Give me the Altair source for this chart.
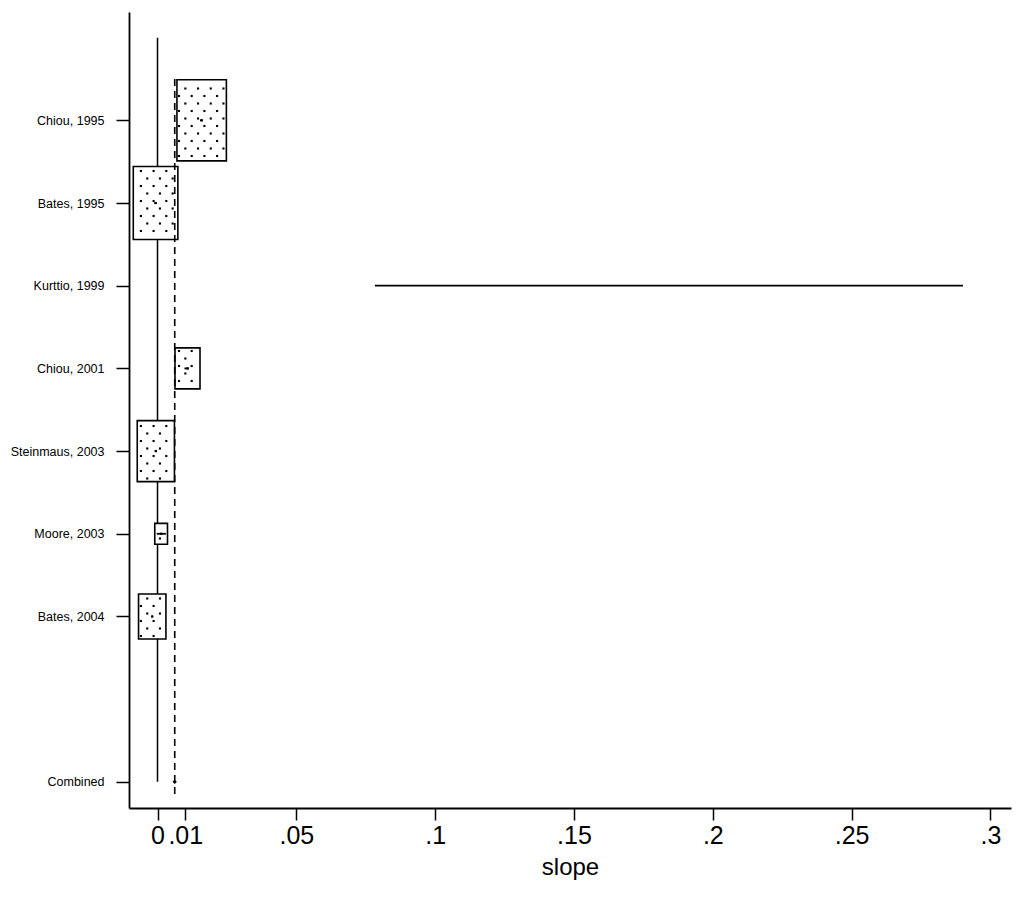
import math
import altair as alt
import pandas as pd

# ---------------- data ----------------
studies = ["Chiou, 1995", "Bates, 1995", "Kurttio, 1999", "Chiou, 2001",
           "Steinmaus, 2003", "Moore, 2003", "Bates, 2004"]
study_rows = [1, 2, 3, 4, 5, 6, 7]
estimates = [0.0159, -0.0007, 0.184, 0.0108, -0.0006, 0.0013, -0.0019]
ci_low = [0.0153, -0.0011, 0.0783, 0.0097, -0.0010, -0.0003, -0.0022]
ci_high = [0.0163, -0.0003, 0.2901, 0.0113, -0.0002, 0.0030, -0.0016]
weights = [33.2, 27.0, 0.01, 8.5, 18.8, 2.2, 10.2]

combined_label = "Combined"
combined_row = 9
combined_est = 0.0062
combined_low = 0.0058
combined_high = 0.0066

x_ticks = [0, 0.01, 0.05, 0.1, 0.15, 0.2, 0.25, 0.3]
x_title = "slope"
x_domain = [-0.01027, 0.3074]
y_domain = [-0.31, 9.316]
null_line_rows = [0, 9]          # vertical line at slope 0
overall_line_rows = [0.5, 9.17]  # dashed line at combined estimate

# ---------------- layout ----------------
W, H = 882, 796
FONT = "Liberation Sans, Arial, sans-serif"
sx = W / (x_domain[1] - x_domain[0])   # px per slope unit
sy = H / (y_domain[1] - y_domain[0])   # px per row

HALF_H_PX = 7.03
HALF_W_PX = 4.29

boxes = pd.DataFrame({
    "study": studies, "row": study_rows, "est": estimates,
    "lo": ci_low, "hi": ci_high, "w": weights,
})
boxes["x1"] = boxes["est"] - HALF_W_PX * boxes["w"].map(math.sqrt) / sx
boxes["x2"] = boxes["est"] + HALF_W_PX * boxes["w"].map(math.sqrt) / sx
boxes["y1"] = boxes["row"] - HALF_H_PX * boxes["w"].map(math.sqrt) / sy
boxes["y2"] = boxes["row"] + HALF_H_PX * boxes["w"].map(math.sqrt) / sy

# stipple texture inside the boxes (screen-aligned lattice)
dots = []
for _, b in boxes.iterrows():
    left = (b.x1 - x_domain[0]) * sx
    right = (b.x2 - x_domain[0]) * sx
    top = (b.y1 - y_domain[0]) * sy
    bottom = (b.y2 - y_domain[0]) * sy
    if right - left < 6:
        continue
    j0 = math.floor((top - 69) / 7.5) - 1
    j1 = math.ceil((bottom - 69) / 7.5) + 1
    for j in range(j0, j1 + 1):
        py = 69 + 7.5 * j
        if not (top + 2 <= py <= bottom - 2):
            continue
        off = 6.35 * (j % 2)
        i0 = math.floor((left - 50 - off) / 12.7) - 1
        i1 = math.ceil((right - 50 - off) / 12.7) + 1
        for i in range(i0, i1 + 1):
            px = 50 + off + 12.7 * i
            if left + 2 <= px <= right - 2:
                dots.append({"x": x_domain[0] + px / sx,
                             "y": y_domain[0] + py / sy})
dots = pd.DataFrame(dots)

null_line = pd.DataFrame({"x": [0, 0], "y": null_line_rows})
overall_line = pd.DataFrame({"x": [combined_est, combined_est],
                             "y": overall_line_rows})
combined = pd.DataFrame({"row": [combined_row], "est": [combined_est],
                         "lo": [combined_low], "hi": [combined_high]})

xs = alt.Scale(domain=x_domain, nice=False, zero=False)
ys = alt.Scale(domain=y_domain, nice=False, zero=False, reverse=True)

names_by_row = [""] * 10
for r, s in zip(study_rows, studies):
    names_by_row[r] = s
names_by_row[combined_row] = combined_label
label_js = "[" + ",".join("'" + n + "'" for n in names_by_row) + "][datum.value]"

x_axis = alt.Axis(
    values=x_ticks, title=x_title,
    labelExpr="datum.value == 0 ? '0' : replace(toString(datum.value), '0.', '.')",
    labelFont=FONT, labelFontSize=25, labelColor="black", labelPadding=3,
    labelOverlap=False, labelFlush=False,
    tickSize=12, tickColor="black", tickWidth=1.5,
    domainColor="black", domainWidth=1.8, grid=False,
    titleFont=FONT, titleFontSize=24, titleFontWeight="normal",
    titleColor="black", titlePadding=7,
)
y_axis = alt.Axis(
    values=study_rows + [combined_row], title="", labelExpr=label_js,
    labelFont=FONT, labelFontSize=12.5, labelColor="black", labelPadding=12,
    tickSize=13, tickColor="black", tickWidth=1.5,
    domainColor="black", domainWidth=1.8, grid=False,
)


def X(field):
    return alt.X(field, scale=xs, axis=x_axis, title=x_title)


def Y(field):
    return alt.Y(field, scale=ys, axis=y_axis, title="")


base_null = alt.Chart(null_line).mark_line(color="black", strokeWidth=1.5).encode(
    x=X("x:Q"), y=Y("y:Q"),
)

rects = alt.Chart(boxes).transform_filter("datum.w >= 1").mark_rect(
    fill="white", stroke="black", strokeWidth=1.6).encode(
    x=X("x1:Q"), x2="x2:Q", y=Y("y1:Q"), y2="y2:Q",
)

stipple = alt.Chart(dots).mark_square(color="black", size=4.5, opacity=1).encode(
    x=X("x:Q"), y=Y("y:Q"),
)

ci = alt.Chart(boxes).mark_rule(color="black", strokeWidth=1.8).encode(
    x=X("lo:Q"), x2="hi:Q", y=Y("row:Q"),
)

est_pts = alt.Chart(boxes).transform_filter("datum.w >= 1").mark_square(
    color="black", size=5, opacity=1).encode(
    x=X("est:Q"), y=Y("row:Q"),
)

comb_ci = alt.Chart(combined).mark_rule(color="black", strokeWidth=1.6).encode(
    x=X("lo:Q"), x2="hi:Q", y=Y("row:Q"),
)
comb_pt = alt.Chart(combined).mark_point(shape="diamond", filled=True, color="black",
                                         size=18, opacity=1).encode(
    x=X("est:Q"), y=Y("row:Q"),
)

dashed = alt.Chart(overall_line).mark_line(color="black", strokeWidth=1.6,
                                           strokeDash=[7, 5]).encode(
    x=X("x:Q"), y=Y("y:Q"),
)

chart = alt.layer(base_null, rects, stipple, ci, est_pts, comb_ci, comb_pt, dashed).properties(
    width=W, height=H,
    autosize=alt.AutoSizeParams(type="none"),
    padding={"left": 121, "top": 4, "right": 5, "bottom": 80},
    background="white",
).configure_view(strokeWidth=0)

chart.save("out.html", embed_options={"renderer": "svg", "actions": False})
